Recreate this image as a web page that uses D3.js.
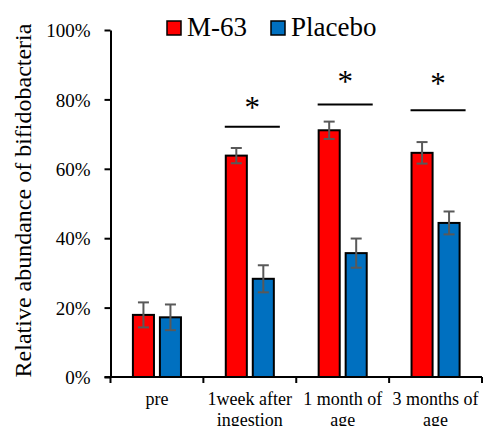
<!DOCTYPE html>
<html>
<head>
<meta charset="utf-8">
<script src="https://cdn.jsdelivr.net/npm/d3@7"></script>
<style>
  body { margin: 0; background: #fff; }
</style>
</head>
<body>
<div id="chart"></div>
<script>
// ---------- data ----------
let categories = [ ['pre'], ['1week after', 'ingestion'], ['1 month of', 'age'], ['3 months of', 'age'] ];
let series     = [ 'M-63', 'Placebo' ];
let m63        = [ 17.9, 63.8, 71.1, 64.6 ];
let m63Err     = [ 3.6, 2.2, 2.5, 3.1 ];
let placebo    = [ 17.2, 28.3, 35.7, 44.4 ];
let placeboErr = [ 3.7, 3.9, 4.2, 3.3 ];
let yTicks     = [ 0, 20, 40, 60, 80, 100 ];
// significance bars: category index, line level, star level
let sigCats    = [ 1, 2, 3 ];
let sigLine    = [ 72.1, 78.5, 76.9 ];
let sigStar    = [ 78.7, 86.2, 85.6 ];

let colours = { 'M-63': '#ff0000', 'Placebo': '#0070c0' };
let serif = 'Liberation Serif';

// ---------- layout ----------
let width = 484, height = 426;
let plotLeft = 110.5, plotRight = 482, plotTop = 30, plotBottom = 377;

let svg = d3.select('#chart')
            .append('svg')
            .attr('width', width)
            .attr('height', height)
            .attr('font-family', serif);

let x0 = d3.scaleBand()
           .domain( d3.range( categories.length ) )
           .range( [ plotLeft, plotRight ] );

let x1 = d3.scaleBand()
           .domain( series )
           .range( [ 0, x0.bandwidth() ] )
           .paddingInner( 0.22 )
           .paddingOuter( 0.83 );

let y = d3.scaleLinear()
          .domain( [ 0, 100 ] )
          .range( [ plotBottom, plotTop ] );

// y axis
let yAxis = d3.axisLeft( y )
              .tickValues( yTicks )
              .tickFormat( d => d + '%' )
              .tickSizeInner( 6 )
              .tickSizeOuter( 0 );

let gy = svg.append('g')
            .attr('transform', 'translate(' + plotLeft + ',0)')
            .call( yAxis )
            .attr('font-family', serif);
gy.select('.domain').attr('stroke', '#000').attr('stroke-width', 2);
gy.selectAll('.tick line').attr('stroke', '#000').attr('stroke-width', 2);
gy.selectAll('.tick text')
  .attr('x', -20)
  .attr('dy', '0.35em')
  .attr('font-size', 19);

// x axis: line with ticks at category boundaries
let gx = svg.append('g');
gx.append('line')
  .attr('x1', plotLeft - 6).attr('x2', plotRight)
  .attr('y1', plotBottom).attr('y2', plotBottom)
  .attr('stroke', '#000').attr('stroke-width', 2);
gx.selectAll('.bound')
  .data( d3.range( categories.length + 1 ) )
  .enter()
  .append('line')
  .attr('x1', d => plotLeft + d * x0.bandwidth())
  .attr('x2', d => plotLeft + d * x0.bandwidth())
  .attr('y1', plotBottom).attr('y2', plotBottom + 6)
  .attr('stroke', '#000').attr('stroke-width', 2);

let xl = gx.selectAll('.xlab')
           .data( categories )
           .enter()
           .append('text')
           .attr('text-anchor', 'middle')
           .attr('y', 405)
           .attr('font-size', 18);
xl.each(function( lines, i ) {
    d3.select(this).selectAll('tspan')
      .data( lines )
      .enter()
      .append('tspan')
      .attr('x', x0(i) + x0.bandwidth() / 2)
      .attr('dy', (d, j) => j === 0 ? 0 : 21)
      .text( d => d );
});

// y axis title
svg.append('text')
   .attr('transform', 'translate(30.5,200.5) rotate(-90)')
   .attr('text-anchor', 'middle')
   .attr('font-size', 24)
   .text('Relative abundance of bifidobacteria');

// ---------- bars ----------
let rows = [];
for (let i = 0; i < categories.length; i++) {
    rows.push({ cat: i, s: 'M-63', v: m63[i], e: m63Err[i] });
    rows.push({ cat: i, s: 'Placebo', v: placebo[i], e: placeboErr[i] });
}

svg.selectAll('rect.bar')
   .data( rows )
   .enter()
   .append('rect')
   .attr('class', 'bar')
   .attr('x', d => x0(d.cat) + x1(d.s))
   .attr('y', d => y(d.v))
   .attr('width', x1.bandwidth())
   .attr('height', d => plotBottom - y(d.v))
   .attr('fill', d => colours[d.s])
   .attr('stroke', '#000')
   .attr('stroke-width', 2);

// error bars
let eb = svg.selectAll('g.err')
            .data( rows )
            .enter()
            .append('g')
            .attr('class', 'err')
            .attr('stroke', '#595959')
            .attr('stroke-width', 2);
let cx = d => x0(d.cat) + x1(d.s) + x1.bandwidth() / 2;
eb.append('line')
  .attr('x1', cx).attr('x2', cx)
  .attr('y1', d => y(d.v + d.e)).attr('y2', d => y(d.v - d.e));
eb.append('line')
  .attr('x1', d => cx(d) - 5.5).attr('x2', d => cx(d) + 5.5)
  .attr('y1', d => y(d.v + d.e)).attr('y2', d => y(d.v + d.e));
eb.append('line')
  .attr('x1', d => cx(d) - 5.5).attr('x2', d => cx(d) + 5.5)
  .attr('y1', d => y(d.v - d.e)).attr('y2', d => y(d.v - d.e));

// ---------- significance ----------
let sig = svg.selectAll('g.sig')
             .data( sigCats )
             .enter()
             .append('g');
let lineX1 = c => x0(c) + x1('M-63') - 1;
let lineX2 = c => x0(c) + x1('Placebo') + x1.bandwidth() + 6;
sig.append('line')
   .attr('x1', d => lineX1(d)).attr('x2', d => lineX2(d))
   .attr('y1', (d, i) => y(sigLine[i])).attr('y2', (d, i) => y(sigLine[i]))
   .attr('stroke', '#000').attr('stroke-width', 2);
sig.append('text')
   .attr('x', d => (lineX1(d) + lineX2(d)) / 2)
   .attr('y', (d, i) => y(sigStar[i]) + 14)
   .attr('text-anchor', 'middle')
   .attr('font-size', 31)
   .text('*');

// ---------- legend ----------
let legendX = [ 167, 271 ];
let lg = svg.selectAll('g.legend')
            .data( series )
            .enter()
            .append('g')
            .attr('transform', (d, i) => 'translate(' + legendX[i] + ',21)');
lg.append('rect')
  .attr('width', 14).attr('height', 14)
  .attr('fill', d => colours[d])
  .attr('stroke', '#000').attr('stroke-width', 1.5);
lg.append('text')
  .attr('x', 20).attr('y', 15)
  .attr('font-size', 27)
  .text( d => d );
</script>
</body>
</html>
